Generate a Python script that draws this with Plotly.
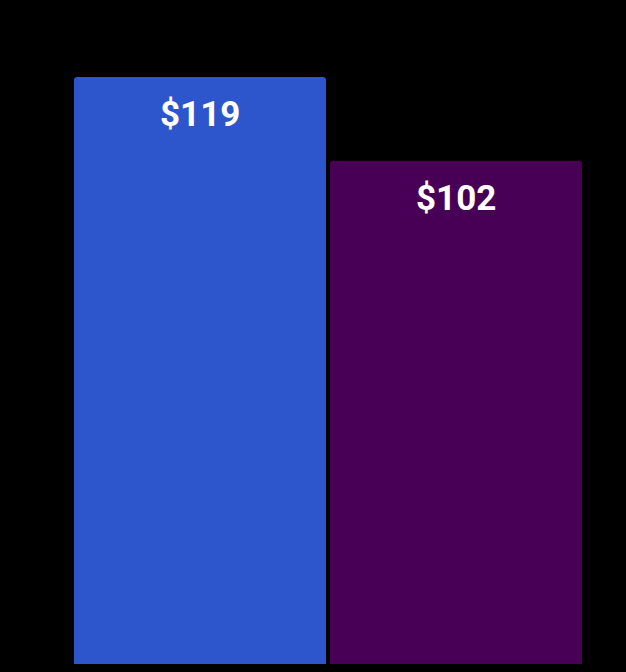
import plotly.graph_objects as go

categories = ["A", "B"]
values = [119, 102]
labels = ["$119", "$102"]
colors = ["#2D55CC", "#470055"]

fig = go.Figure()
fig.add_trace(go.Bar(
    x=categories, y=values,
    marker=dict(color=colors, line=dict(width=0), cornerradius=3),
    hoverinfo="skip",
))
for c, v, t in zip(categories, values, labels):
    fig.add_annotation(x=c, y=v, text="<b>%s</b>" % t, showarrow=False,
                       yanchor="top", yshift=-15,
                       font=dict(family="Roboto", size=35, color="white"))

fig.update_layout(
    width=626, height=672,
    paper_bgcolor="black", plot_bgcolor="black",
    margin=dict(l=72, r=42, t=77, b=8),
    bargap=0.0156,
    showlegend=False,
    xaxis=dict(visible=False, range=[-0.5, 1.5]),
    yaxis=dict(visible=False, range=[0, 119]),
)
fig.write_html(
    "out.html",
    config={"displayModeBar": False},
    post_script="document.body.style.margin='0';document.body.style.background='black';document.body.style.overflow='hidden';",
)
